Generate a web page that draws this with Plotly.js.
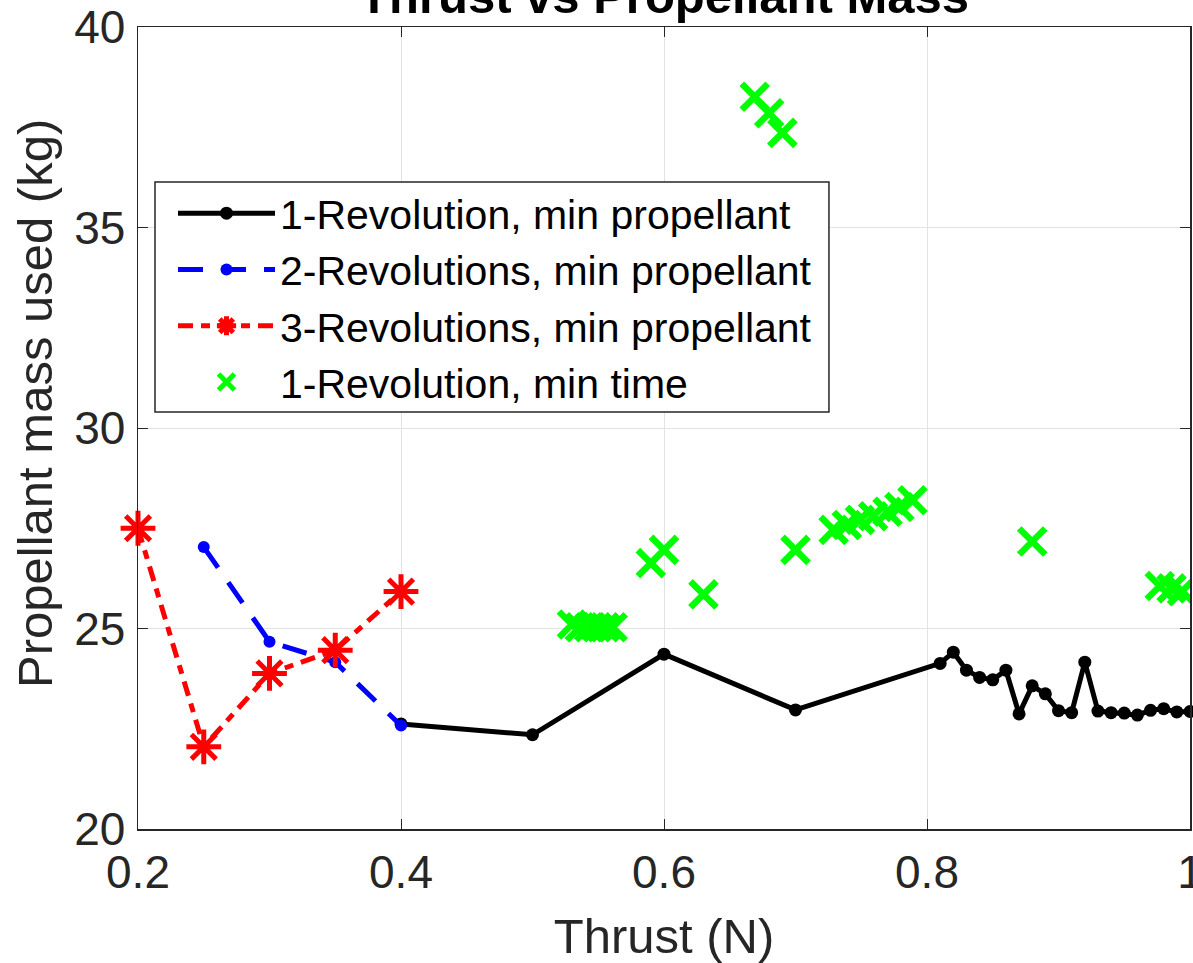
<!DOCTYPE html>
<html>
<head>
<meta charset="utf-8">
<script src="https://cdn.plot.ly/plotly-3.0.1.min.js"></script>
<style>html,body{margin:0;padding:0;background:#fff;}#chart{width:1193px;height:963px;}</style>
</head>
<body>
<div id="chart"></div>
<script>
// 1-Revolution, min propellant
const rev1X = [0.4, 0.5, 0.6, 0.7, 0.81, 0.82, 0.83, 0.84, 0.85, 0.86, 0.87, 0.88, 0.89, 0.90, 0.91, 0.92, 0.93, 0.94, 0.95, 0.96, 0.97, 0.98, 0.99, 1.0];
const rev1Y = [22.62, 22.35, 24.36, 22.97, 24.13, 24.41, 23.96, 23.78, 23.72, 23.96, 22.87, 23.57, 23.37, 22.95, 22.9, 24.16, 22.94, 22.9, 22.89, 22.84, 22.96, 23.0, 22.92, 22.93];
// 2-Revolutions, min propellant
const rev2X = [0.25, 0.3, 0.35, 0.4];
const rev2Y = [27.03, 24.67, 24.16, 22.58];
// 3-Revolutions, min propellant
const rev3X = [0.2, 0.25, 0.3, 0.35, 0.4];
const rev3Y = [27.5, 22.05, 23.88, 24.46, 25.92];
// 1-Revolution, min time
const minTimeX = [0.53, 0.536, 0.543, 0.549, 0.555, 0.561, 0.59, 0.6, 0.63, 0.669, 0.68, 0.69, 0.7, 0.729, 0.739, 0.749, 0.759, 0.77, 0.779, 0.789, 0.88, 0.977, 0.986, 0.994];
const minTimeY = [25.1, 25.03, 25.03, 25.03, 25.03, 25.03, 26.63, 26.96, 25.85, 38.26, 37.85, 37.36, 26.96, 27.46, 27.58, 27.71, 27.8, 27.91, 28.03, 28.2, 27.17, 26.06, 26.0, 25.93];

const seriesNames = ['1-Revolution, min propellant', '2-Revolutions, min propellant', '3-Revolutions, min propellant', '1-Revolution, min time'];
const xTicks = [0.2, 0.4, 0.6, 0.8, 1];
const xTickText = ['0.2', '0.4', '0.6', '0.8', '1'];
const yTicks = [20, 25, 30, 35, 40];
const titleText = 'Thrust vs Propellant Mass';
const xTitle = 'Thrust (N)';
const yTitle = 'Propellant mass used (kg)';

const FONT = 'Liberation Sans, Arial, Helvetica, sans-serif';
const AX = '#262626';

const traces = [
  {x: rev1X, y: rev1Y, name: seriesNames[0], mode: 'lines+markers', cliponaxis: false,
   line: {color: '#000000', width: 5}, marker: {symbol: 'circle', size: 13, color: '#000000'}},
  {x: rev2X, y: rev2Y, name: seriesNames[1], mode: 'lines+markers', cliponaxis: false,
   line: {color: '#0000ff', width: 5, dash: '25px,18px'}, marker: {symbol: 'circle', size: 12, color: '#0000ff'}},
  {x: rev3X, y: rev3Y, name: seriesNames[2], mode: 'lines+markers', cliponaxis: false,
   line: {color: '#ff0000', width: 5, dash: '15px,8px,9px,8px'},
   marker: {symbol: 'asterisk-open', size: 29, color: '#ff0000', line: {color: '#ff0000', width: 5}}},
  {x: minTimeX, y: minTimeY, name: seriesNames[3], mode: 'markers', cliponaxis: true,
   marker: {symbol: 'x-thin-open', size: 26, color: '#00ff00', line: {color: '#00ff00', width: 6.5}}}
];

const layout = {
  width: 1193, height: 963,
  margin: {l: 138, r: 3, t: 27, b: 134, pad: 0},
  paper_bgcolor: '#ffffff', plot_bgcolor: '#ffffff',
  font: {family: FONT, color: AX},
  title: {text: '<b>' + titleText + '</b>', font: {family: FONT, size: 49, color: '#000000'},
          xref: 'paper', x: 0.5, xanchor: 'center', yref: 'container', y: 0.987, yanchor: 'bottom'},
  xaxis: {range: [0.2, 1], tickvals: xTicks, ticktext: xTickText, showgrid: true, gridcolor: '#e3e3e3', gridwidth: 1,
          zeroline: false, showline: true, linecolor: AX, linewidth: 1.5, mirror: 'ticks',
          ticks: 'inside', ticklen: 10, tickcolor: AX, tickwidth: 1, ticklabeloverflow: 'allow',
          tickfont: {family: FONT, size: 46, color: AX}, ticklabelstandoff: 2,
          title: {text: xTitle, font: {family: FONT, size: 49, color: AX}, standoff: 26}, automargin: false},
  yaxis: {range: [20, 40], tickvals: yTicks, showgrid: true, gridcolor: '#e3e3e3', gridwidth: 1,
          zeroline: false, showline: true, linecolor: AX, linewidth: 1.5, mirror: 'ticks',
          ticks: 'inside', ticklen: 10, tickcolor: AX, tickwidth: 1, ticklabeloverflow: 'allow',
          tickfont: {family: FONT, size: 46, color: AX}, ticklabelstandoff: 2, automargin: false},
  annotations: [
    {text: yTitle, xref: 'paper', yref: 'paper', x: -0.0979, y: 0.53, xanchor: 'center', yanchor: 'middle',
     textangle: -90, showarrow: false, font: {family: FONT, size: 49, color: AX}}
  ],
  shapes: [
    {type: 'rect', xref: 'paper', yref: 'paper', x0: 0.01616, x1: 0.6568, y0: 0.52, y1: 0.8067,
     fillcolor: '#ffffff', line: {color: AX, width: 1.5}, layer: 'above'}
  ],
  showlegend: true,
  legend: {x: 0.03327, y: 0.8092, xanchor: 'left', yanchor: 'top', bgcolor: 'rgba(0,0,0,0)',
           borderwidth: 0, font: {family: FONT, size: 41, color: '#000000'},
           itemwidth: 97, tracegroupgap: 0}
};

Plotly.newPlot('chart', traces, layout, {displayModeBar: false, staticPlot: true});
</script>
</body>
</html>
